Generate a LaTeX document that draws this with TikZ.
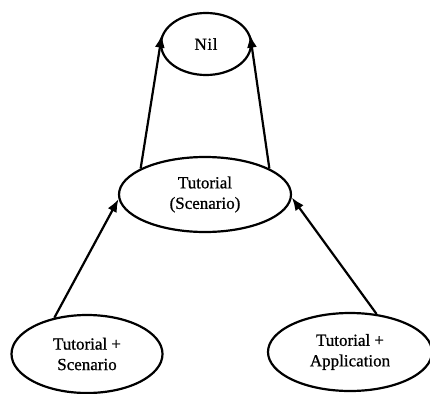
\documentclass[tikz,border=0pt]{standalone}
\usepackage{fontspec}
\setmainfont{Liberation Serif}[FakeBold=0.8]
\usetikzlibrary{shapes.geometric,arrows.meta}
\begin{document}
\begin{tikzpicture}[x=1pt,y=-1pt,
  state/.style={draw,ellipse,line width=2.2pt,inner sep=0pt,align=center,
    font=\fontsize{17}{20.5}\selectfont},
  link/.style={line width=2.2pt,-{Latex[length=13pt,width=10pt]}}]
  \useasboundingbox (0,0) rectangle (430,393);
  % states of the lattice
  \node[state,minimum width=90pt,minimum height=62pt] (nil) at (206,44) {N\kern0.6pt i\kern0.6pt l};
  \node[state,minimum width=172pt,minimum height=75pt] (tut) at (205,194.5) {Tutorial\\(Scenario)};
  \node[state,minimum width=151pt,minimum height=78pt] (ts) at (87,354) {Tutorial +\\Scenario};
  \node[state,minimum width=164pt,minimum height=78pt] (ta) at (350,352) {Tutorial +\\Application};
  % refinement arrows
  \draw[link] (tut.158) -- (nil.168);
  \draw[link] (tut.22) -- (nil.12);
  \draw[link] (ts.132) -- (tut.183);
  \draw[link] (ta.55) -- (tut.358);
\end{tikzpicture}
\end{document}
